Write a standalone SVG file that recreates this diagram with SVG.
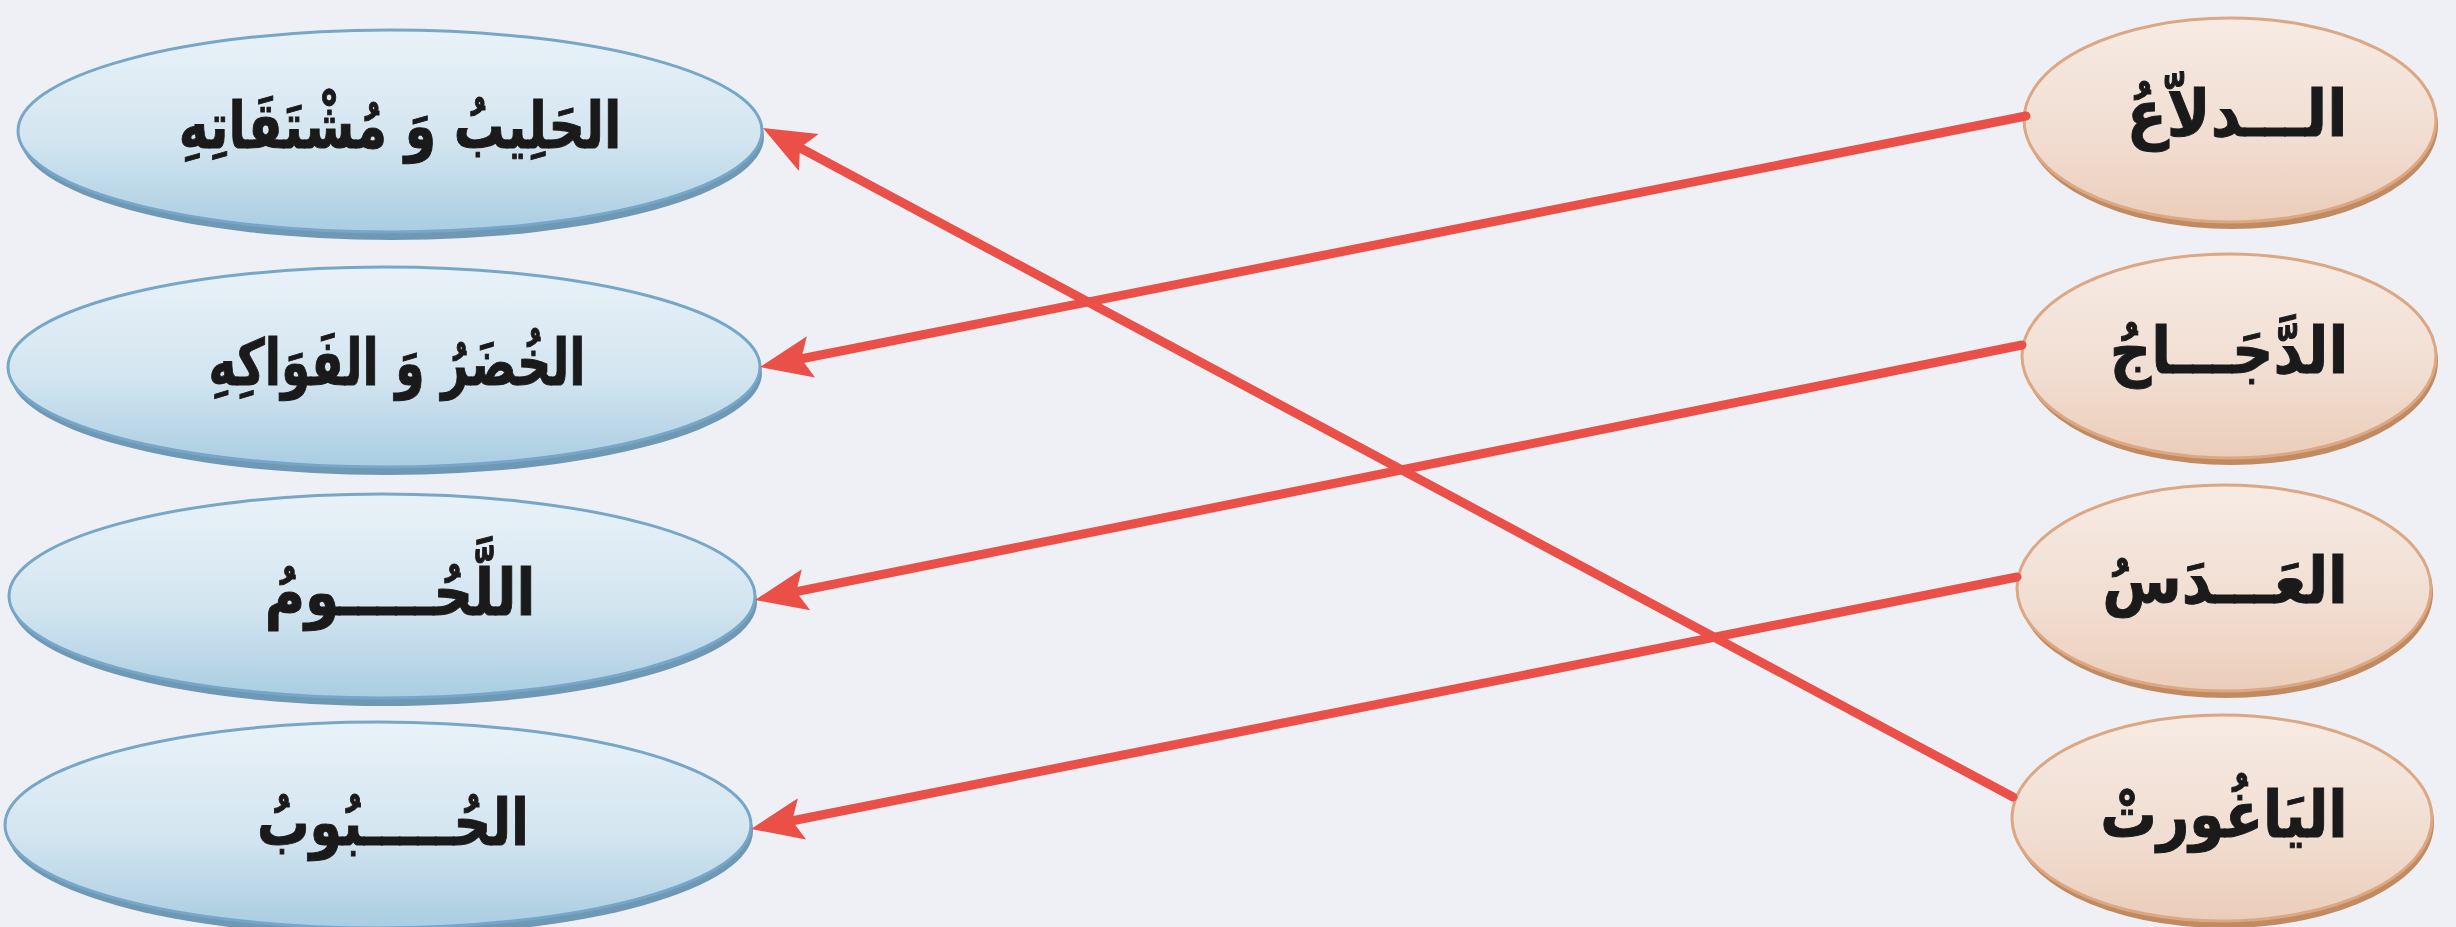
<svg xmlns="http://www.w3.org/2000/svg" width="2456" height="927" viewBox="0 0 2456 927">
<defs>
<linearGradient id="gBlue" x1="0" y1="0" x2="0" y2="1">
<stop offset="0" stop-color="#eaf2f8"/>
<stop offset="0.55" stop-color="#d3e5f0"/>
<stop offset="1" stop-color="#a9cde2"/>
</linearGradient>
<linearGradient id="gOrange" x1="0" y1="0" x2="0" y2="1">
<stop offset="0" stop-color="#f6ebe4"/>
<stop offset="0.6" stop-color="#f1ddd1"/>
<stop offset="1" stop-color="#ebcdb9"/>
</linearGradient>
<marker id="ah" viewBox="-80 -26 84 52" refX="-36" refY="0" markerWidth="84" markerHeight="52" markerUnits="userSpaceOnUse" orient="auto">
<path d="M0,0 L-52,-21 L-42,0 L-52,21 Z" fill="#ea5047"/>
</marker>
<style>
.bl-rim{fill:#6f98b4;}
.bl{fill:url(#gBlue);stroke:#76a7c8;stroke-width:3;}
.or-rim{fill:#c28a60;}
.or{fill:url(#gOrange);stroke:#dca783;stroke-width:3;}
.t{font-family:"DejaVu Sans","Noto Sans",sans-serif;font-weight:bold;font-size:64px;fill:#1a1a1a;stroke:#1a1a1a;stroke-width:1;text-anchor:middle;}
.c{fill:none;stroke:#ea5047;stroke-width:9;stroke-linecap:round;}
</style>
</defs>
<rect width="2456" height="927" fill="#eef0f5"/>

<g id="node-milk">
<ellipse class="bl-rim" cx="392" cy="137" rx="372" ry="103"/>
<ellipse class="bl" cx="390" cy="131" rx="372" ry="101"/>
<text class="t" direction="rtl" transform="translate(400,148) scale(0.79,1)">الحَلِيبُ وَ مُشْتَقَاتِهِ</text>
</g>
<g id="node-veg">
<ellipse class="bl-rim" cx="386" cy="373" rx="376" ry="102"/>
<ellipse class="bl" cx="384" cy="367" rx="376" ry="100"/>
<text class="t" direction="rtl" transform="translate(397,385) scale(0.74,1)">الخُضَرُ وَ الفَوَاكِهِ</text>
</g>
<g id="node-meat">
<ellipse class="bl-rim" cx="384" cy="602" rx="373" ry="104"/>
<ellipse class="bl" cx="382" cy="596" rx="373" ry="102"/>
<text class="t" direction="rtl" transform="translate(400,615) scale(0.86,1)">اللَّحُـــــومُ</text>
</g>
<g id="node-grains">
<ellipse class="bl-rim" cx="380" cy="831" rx="373" ry="105"/>
<ellipse class="bl" cx="378" cy="825" rx="373" ry="103"/>
<text class="t" direction="rtl" transform="translate(393,845) scale(0.82,1)">الحُـــــبُوبُ</text>
</g>

<g id="node-watermelon">
<ellipse class="or-rim" cx="2232" cy="125" rx="206" ry="104"/>
<ellipse class="or" cx="2230" cy="120" rx="206" ry="102"/>
<text class="t" direction="rtl" transform="translate(2237,136) scale(0.92,1)">الـــدلاّعُ</text>
</g>
<g id="node-chicken">
<ellipse class="or-rim" cx="2231" cy="361" rx="207" ry="104"/>
<ellipse class="or" cx="2229" cy="356" rx="207" ry="102"/>
<text class="t" direction="rtl" transform="translate(2229,373) scale(0.9,1)">الدَّجَـــاجُ</text>
</g>
<g id="node-lentils">
<ellipse class="or-rim" cx="2226" cy="593" rx="207" ry="105"/>
<ellipse class="or" cx="2224" cy="588" rx="207" ry="103"/>
<text class="t" direction="rtl" transform="translate(2225,603) scale(0.9,1)">العَـــدَسُ</text>
</g>
<g id="node-yogurt">
<ellipse class="or-rim" cx="2224" cy="823" rx="210" ry="105"/>
<ellipse class="or" cx="2222" cy="818" rx="210" ry="103"/>
<text class="t" direction="rtl" transform="translate(2224,837) scale(0.88,1)">اليَاغُورتْ</text>
</g>

<g id="connectors">
<path class="c" d="M2026,116 L795.3,360" marker-end="url(#ah)"/>
<path class="c" d="M2022,345 L790.3,592.9" marker-end="url(#ah)"/>
<path class="c" d="M2017,577 L786.3,822" marker-end="url(#ah)"/>
<path class="c" d="M2013,797 L794.7,145" marker-end="url(#ah)"/>
</g>
</svg>
